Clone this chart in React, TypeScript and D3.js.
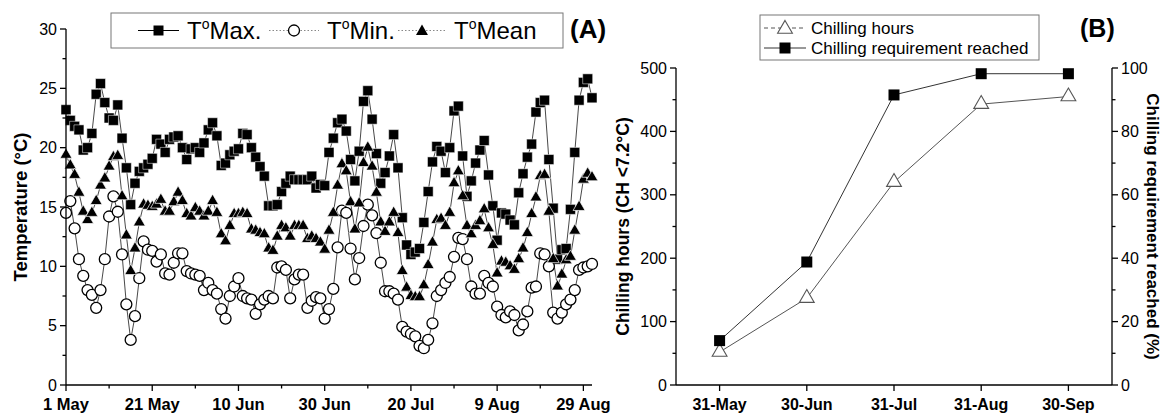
import React from "react";
import * as d3 from "d3";

// ---------- Panel A data (daily, 1 May .. 31 Aug) ----------
const startDate = new Date(Date.UTC(2013, 4, 1));
const endDate = new Date(Date.UTC(2013, 7, 31));

const maxT = [
  23.2, 22.3, 21.8, 21.5, 19.8, 20.0, 21.2, 24.5, 25.4, 23.8,
  22.5, 22.3, 23.6, 20.8, 18.3, 15.2, 17.0, 18.0, 18.3, 18.6,
  19.1, 20.7, 20.3, 19.6, 20.7, 20.9, 21.0, 20.0, 19.0, 19.9,
  20.0, 19.6, 20.4, 21.5, 22.1, 21.0, 18.5, 18.7, 19.4, 19.7,
  19.9, 21.2, 21.1, 20.0, 19.2, 18.4, 17.6, 15.1, 15.1, 15.2,
  16.3, 17.0, 17.6, 17.3, 17.3, 17.3, 17.3, 17.6, 16.6, 16.9,
  16.8, 19.6, 20.8, 22.1, 22.4, 21.4, 19.0, 17.2, 19.7, 23.9,
  24.8, 22.4, 19.5, 17.0, 17.9, 19.3, 21.1, 18.3, 14.1, 11.8,
  11.0, 11.2, 11.5, 13.7, 16.3, 18.8, 20.1, 19.7, 17.9, 20.0,
  23.1, 23.5, 19.3, 15.9, 17.2, 18.7, 19.8, 20.6, 17.7, 15.1,
  12.2, 14.5, 14.4, 13.9, 13.5, 16.2, 17.8, 19.2, 20.3, 23.0,
  23.8, 24.0, 19.0, 14.9, 10.6, 11.4, 11.5, 14.8, 19.6, 24.0,
  25.5, 25.8, 24.2,
];

const minT = [
  14.5, 15.5, 13.2, 10.6, 9.2, 8.0, 7.6, 6.5, 8.0, 10.6,
  14.2, 15.9, 14.6, 11.0, 6.8, 3.8, 5.8, 9.0, 12.1, 11.4,
  11.3, 10.4, 11.0, 9.4, 9.3, 10.3, 11.1, 11.1, 9.6, 9.4,
  9.3, 9.2, 8.0, 8.6, 8.0, 7.7, 6.4, 5.6, 7.5, 8.3,
  9.0, 7.5, 7.3, 7.2, 6.0, 6.8, 7.2, 7.5, 7.3, 9.9,
  10.0, 9.7, 7.3, 8.9, 9.3, 9.3, 6.5, 7.1, 7.4, 7.3,
  5.6, 6.4, 8.1, 11.6, 14.7, 14.5, 11.5, 8.9, 10.7, 13.4,
  15.2, 14.3, 12.8, 10.3, 7.9, 7.9, 7.7, 7.2, 4.9, 4.5,
  4.3, 4.1, 3.3, 3.1, 3.8, 5.2, 7.5, 8.0, 8.6, 9.1,
  10.8, 12.4, 12.3, 10.6, 8.3, 7.7, 7.7, 9.2, 8.6, 8.3,
  6.6, 5.9, 5.7, 6.2, 5.9, 4.6, 5.1, 6.2, 8.2, 8.3,
  11.1, 11.0, 10.0, 6.1, 5.6, 6.1, 6.8, 7.2, 8.0, 9.7,
  9.9, 10.0, 10.2,
];

const meanT = [
  19.4, 18.5, 17.7, 16.2, 14.6, 13.9, 14.5, 15.5, 16.8, 17.4,
  18.4, 19.2, 19.3, 15.9, 12.6, 9.6, 11.5, 13.7, 15.2, 15.1,
  15.0, 15.2, 15.6, 14.6, 14.6, 15.4, 16.2, 15.5, 14.4, 14.2,
  14.9, 14.6, 14.2, 14.6, 15.5, 14.5, 12.7, 12.1, 13.4, 14.4,
  14.4, 14.5, 14.4, 13.1, 13.0, 12.8, 12.7, 11.5, 11.3, 12.5,
  13.4, 13.2, 12.5, 13.4, 13.4, 13.4, 12.3, 12.5, 12.3, 12.0,
  11.4, 13.0, 14.5, 16.8, 18.6, 18.0, 15.4, 13.1, 15.3, 18.7,
  20.0, 18.4, 16.2, 13.7, 12.9, 13.7, 14.5, 12.8, 9.6, 8.2,
  7.5, 7.4, 7.4, 8.4, 10.1, 12.0, 13.9, 14.0, 13.4, 14.5,
  17.0, 18.0, 15.9, 13.4, 12.7, 13.4, 13.8, 14.8, 13.2, 11.8,
  9.4, 10.4, 10.3, 10.0, 9.7, 10.6, 11.5, 12.8, 14.4, 15.8,
  17.6, 17.7, 14.6, 10.6, 8.3, 9.3, 10.5, 10.8, 13.0, 15.0,
  17.3, 17.8, 17.5,
];

const xTickLabelsA = ["1 May", "21 May", "10 Jun", "30 Jun", "20 Jul", "9 Aug", "29 Aug"];
const yTicksA = [0, 5, 10, 15, 20, 25, 30];

// ---------- Panel B data ----------
const monthsB = ["31-May", "30-Jun", "31-Jul", "31-Aug", "30-Sep"];
const chillingHours = [52, 137, 320, 443, 455];
const chillingReq = [14, 38.8, 91.5, 98.2, 98.2];
const yTicksBLeft = [0, 100, 200, 300, 400, 500];
const yTicksBRight = [0, 20, 40, 60, 80, 100];

const FONT = "'Liberation Sans', Arial, Helvetica, sans-serif";

export default function App() {
  // Panel A scales
  const xA = d3.scaleUtc().domain([startDate, endDate]).range([66, 592]);
  const yA = d3.scaleLinear().domain([0, 30]).range([385, 29]);
  const dayDate = (i: number) => d3.utcDay.offset(startDate, i);

  const lineA = (vals: number[]) =>
    d3.line<number>().x((_, i) => xA(dayDate(i))).y((v) => yA(v))(vals) || "";

  const sq = d3.symbol(d3.symbolSquare, 100)() || "";
  const circ = d3.symbol(d3.symbolCircle, 95)() || "";
  const tri = d3.symbol(d3.symbolTriangle, 62)() || "";

  const majorX = xTickLabelsA.map((_, i) => dayDate(i * 20));
  const minorX = xTickLabelsA.map((_, i) => dayDate(i * 20 + 10)).filter((d) => d <= endDate);
  const minorYA = d3.range(2.5, 30, 5);

  // Panel B scales
  const xB = d3.scalePoint<string>().domain(monthsB).range([676, 1112]).padding(0.5);
  const yBL = d3.scaleLinear().domain([0, 500]).range([385, 68]);
  const yBR = d3.scaleLinear().domain([0, 100]).range([385, 68]);
  const lineB1 = d3.line<number>().x((_, i) => xB(monthsB[i]) as number).y((v) => yBL(v))(chillingHours) || "";
  const lineB2 = d3.line<number>().x((_, i) => xB(monthsB[i]) as number).y((v) => yBR(v))(chillingReq) || "";
  const triB = d3.symbol(d3.symbolTriangle, 95)() || "";
  const sqB = d3.symbol(d3.symbolSquare, 121)() || "";

  const axisStroke = { stroke: "#000", strokeWidth: 1.3 };

  return (
    <svg width={1167} height={416} style={{ position: "absolute", left: 0, top: 0, background: "#fff" }} fontFamily={FONT}>
      <rect x={0} y={0} width={1167} height={416} fill="#fff" />
      {/* ================= Panel A ================= */}
      <path d={lineA(maxT)} fill="none" stroke="#333" strokeWidth={0.9} />
      <path d={lineA(minT)} fill="none" stroke="#333" strokeWidth={0.9} />
      <path d={lineA(meanT)} fill="none" stroke="#333" strokeWidth={0.9} />
      {maxT.map((v, i) => (
        <path key={"mx" + i} d={sq} transform={`translate(${xA(dayDate(i))},${yA(v)})`} fill="#000" stroke="#fff" strokeWidth={0.5} />
      ))}
      {minT.map((v, i) => (
        <path key={"mn" + i} d={circ} transform={`translate(${xA(dayDate(i))},${yA(v)})`} fill="#fff" stroke="#000" strokeWidth={1.3} />
      ))}
      {meanT.map((v, i) => (
        <path key={"me" + i} d={tri} transform={`translate(${xA(dayDate(i))},${yA(v)})`} fill="#000" stroke="#fff" strokeWidth={0.7} />
      ))}
      {/* axes A */}
      <line x1={66} x2={66} y1={yA(30)} y2={385} {...axisStroke} />
      <line x1={66} x2={592} y1={385} y2={385} {...axisStroke} />
      {yTicksA.map((t) => (
        <g key={"ya" + t}>
          <line x1={60} x2={66} y1={yA(t)} y2={yA(t)} {...axisStroke} />
          <text x={57} y={yA(t) + 5.6} fontSize={16} textAnchor="end">{t}</text>
        </g>
      ))}
      {minorYA.map((t) => (
        <line key={"yam" + t} x1={62.5} x2={66} y1={yA(t)} y2={yA(t)} {...axisStroke} />
      ))}
      {majorX.map((d, i) => (
        <g key={"xa" + i}>
          <line x1={xA(d)} x2={xA(d)} y1={385} y2={391} {...axisStroke} />
          <text x={xA(d)} y={410} fontSize={16.5} fontWeight="bold" textAnchor="middle">{xTickLabelsA[i]}</text>
        </g>
      ))}
      {minorX.map((d, i) => (
        <line key={"xam" + i} x1={xA(d)} x2={xA(d)} y1={385} y2={388.5} {...axisStroke} />
      ))}
      <text transform={`translate(27,${(yA(30) + 385) / 2}) rotate(-90)`} fontSize={18.5} fontWeight="bold" textAnchor="middle">
        Temperature (°C)
      </text>
      {/* legend A */}
      <rect x={111} y={13} width={452} height={35} fill="#fff" stroke="#777" strokeWidth={1} />
      <line x1={138} x2={179} y1={30.5} y2={30.5} stroke="#000" strokeWidth={1.2} />
      <path d={sq} transform="translate(158.5,30.5)" fill="#000" />
      <text x={187} y={39} fontSize={24}>T<tspan fontSize={14} dy={-10}>o</tspan><tspan dy={10}>Max.</tspan></text>
      <line x1={269} x2={319} y1={30.5} y2={30.5} stroke="#888" strokeWidth={1} strokeDasharray="1.5,2" />
      <path d={circ} transform="translate(294,30.5)" fill="#fff" stroke="#000" strokeWidth={1.3} />
      <text x={327} y={39} fontSize={24}>T<tspan fontSize={14} dy={-10}>o</tspan><tspan dy={10}>Min.</tspan></text>
      <line x1={398} x2={446} y1={30.5} y2={30.5} stroke="#888" strokeWidth={1} strokeDasharray="1.5,2" />
      <path d={tri} transform="translate(422,31.5)" fill="#000" />
      <text x={454} y={39} fontSize={24}>T<tspan fontSize={14} dy={-10}>o</tspan><tspan dy={10}>Mean</tspan></text>
      <text x={570} y={38} fontSize={26} fontWeight="bold">(A)</text>

      {/* ================= Panel B ================= */}
      <path d={lineB1} fill="none" stroke="#555" strokeWidth={1} />
      <path d={lineB2} fill="none" stroke="#333" strokeWidth={1} />
      {chillingHours.map((v, i) => (
        <path key={"ch" + i} d={triB} transform={`translate(${xB(monthsB[i])},${yBL(v)})`} fill="#fff" stroke="#555" strokeWidth={1.1} />
      ))}
      {chillingReq.map((v, i) => (
        <path key={"cr" + i} d={sqB} transform={`translate(${xB(monthsB[i])},${yBR(v)})`} fill="#000" />
      ))}
      <line x1={676} x2={676} y1={68} y2={385} {...axisStroke} />
      <line x1={1112} x2={1112} y1={68} y2={385} {...axisStroke} />
      <line x1={676} x2={1112} y1={385} y2={385} {...axisStroke} />
      {yTicksBLeft.map((t) => (
        <g key={"bl" + t}>
          <line x1={670} x2={676} y1={yBL(t)} y2={yBL(t)} {...axisStroke} />
          <text x={667} y={yBL(t) + 5.6} fontSize={16} textAnchor="end">{t}</text>
        </g>
      ))}
      {d3.range(50, 500, 100).map((t) => (
        <line key={"blm" + t} x1={672.5} x2={676} y1={yBL(t)} y2={yBL(t)} {...axisStroke} />
      ))}
      {yTicksBRight.map((t) => (
        <g key={"br" + t}>
          <line x1={1112} x2={1118} y1={yBR(t)} y2={yBR(t)} {...axisStroke} />
          <text x={1121} y={yBR(t) + 5.6} fontSize={16} textAnchor="start">{t}</text>
        </g>
      ))}
      {d3.range(10, 100, 20).map((t) => (
        <line key={"brm" + t} x1={1112} x2={1115.5} y1={yBR(t)} y2={yBR(t)} {...axisStroke} />
      ))}
      {monthsB.map((m) => (
        <g key={"bx" + m}>
          <line x1={xB(m)} x2={xB(m)} y1={385} y2={391} {...axisStroke} />
          <text x={xB(m)} y={410} fontSize={16} fontWeight="bold" textAnchor="middle">{m}</text>
        </g>
      ))}
      <text transform={`translate(629,${(68 + 385) / 2}) rotate(-90)`} fontSize={17.5} fontWeight="bold" textAnchor="middle">
        Chilling hours (CH &lt;7.2°C)
      </text>
      <text transform={`translate(1147,${(68 + 385) / 2}) rotate(90)`} fontSize={17} fontWeight="bold" textAnchor="middle">
        Chilling requirement reached (%)
      </text>
      {/* legend B */}
      <rect x={760} y={15} width={279} height={45} fill="#fff" stroke="#777" strokeWidth={1} />
      <line x1={764} x2={806} y1={28} y2={28} stroke="#555" strokeWidth={1} strokeDasharray="4,3" />
      <path d={triB} transform="translate(785,29)" fill="#fff" stroke="#555" strokeWidth={1.1} />
      <text x={811} y={34} fontSize={17}>Chilling hours</text>
      <line x1={764} x2={806} y1={48} y2={48} stroke="#333" strokeWidth={1} />
      <path d={sqB} transform="translate(785,48)" fill="#000" />
      <text x={811} y={54} fontSize={17}>Chilling requirement reached</text>
      <text x={1080} y={37} fontSize={25} fontWeight="bold">(B)</text>
    </svg>
  );
}
